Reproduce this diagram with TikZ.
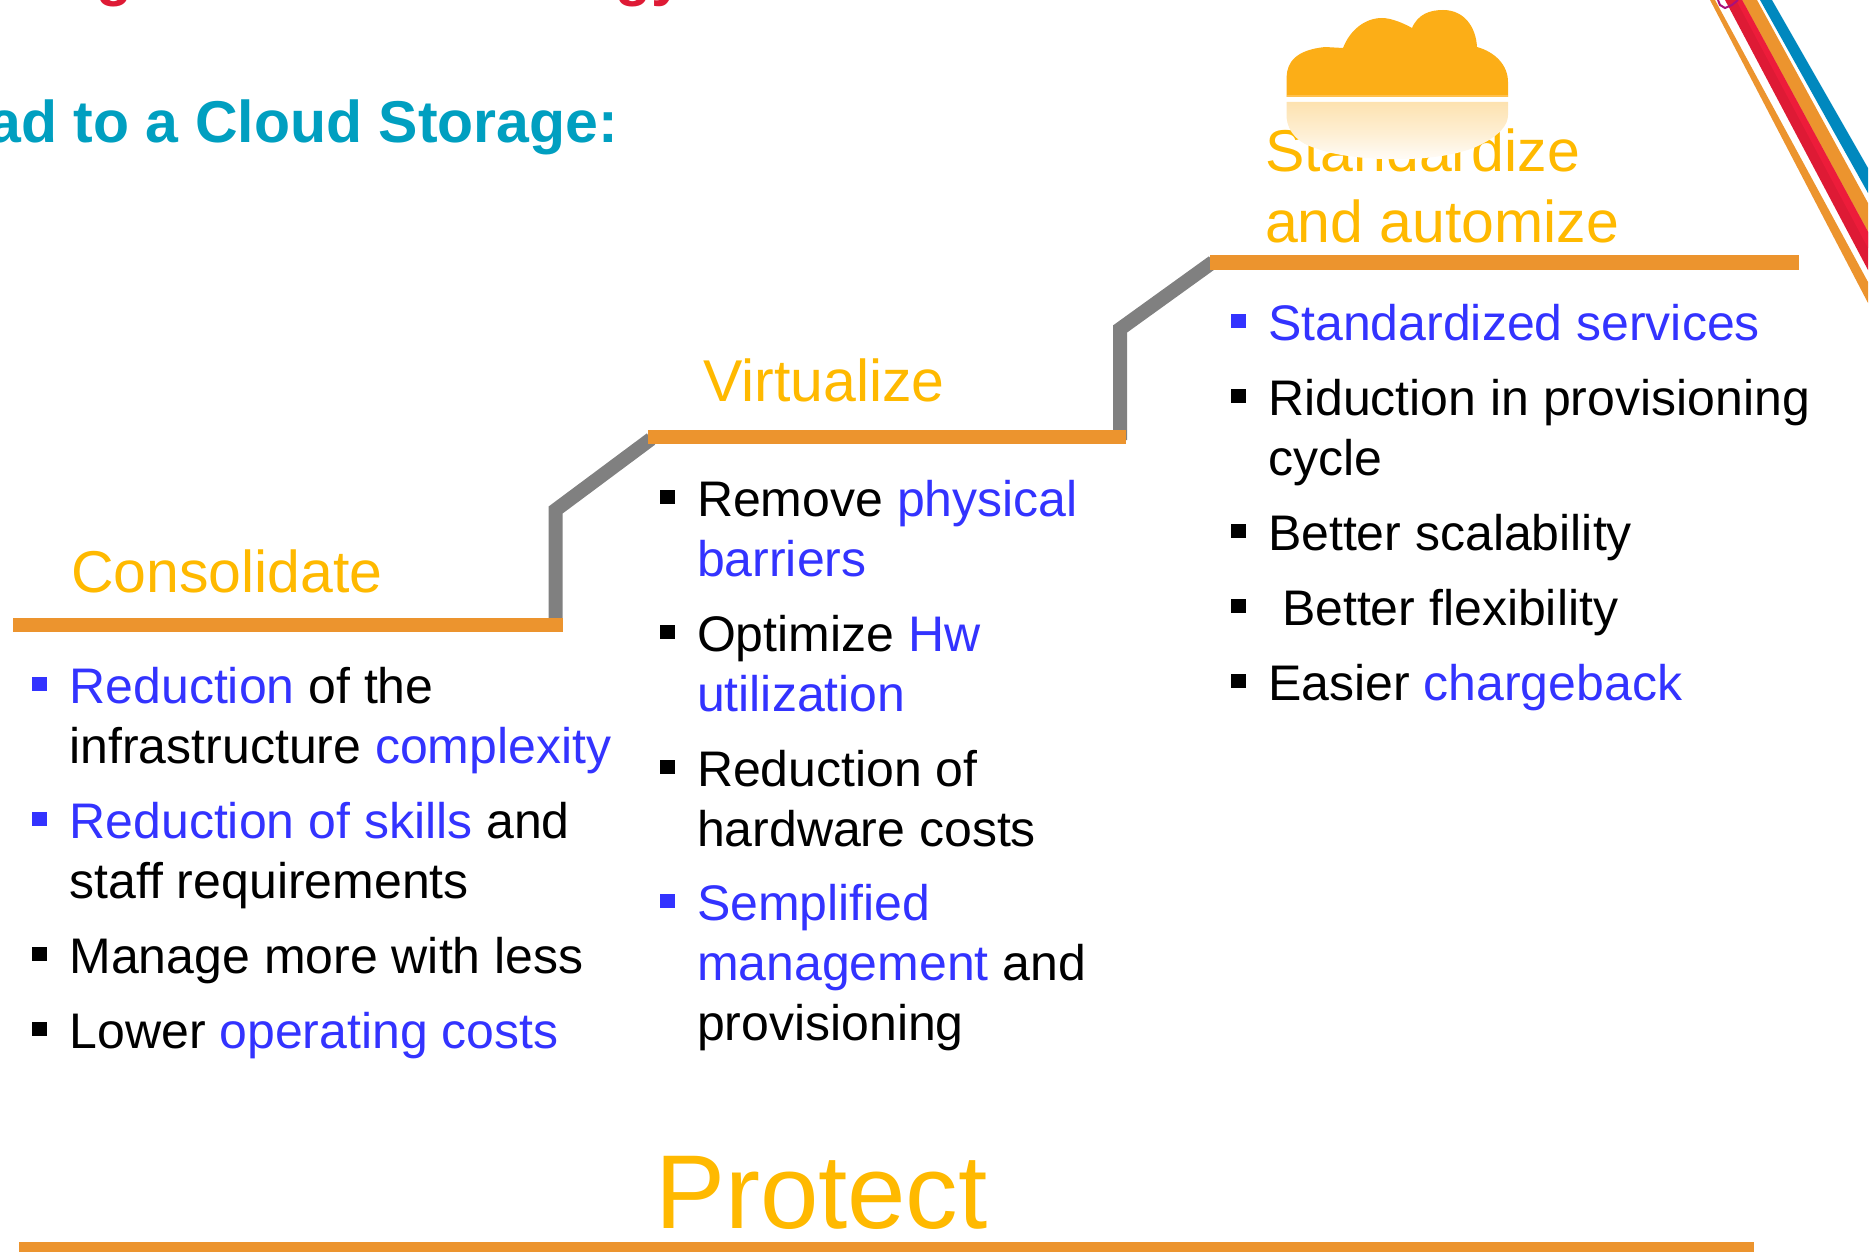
\documentclass[tikz,border=0pt]{standalone}
\usepackage{fontspec}
\setmainfont{Liberation Sans}
\definecolor{hdr}{HTML}{FFB900}
\definecolor{blu}{HTML}{3333FF}
\definecolor{bar}{HTML}{EC942E}
\definecolor{gry}{HTML}{808080}
\definecolor{teal}{HTML}{009FC0}
\definecolor{rd}{HTML}{DE1A35}
\definecolor{rdb}{HTML}{ED1C3A}
\definecolor{cld}{HTML}{FCAE17}
\definecolor{cldl}{HTML}{FFC04D}
\definecolor{cldr}{HTML}{FDE2B0}
\definecolor{stb}{HTML}{0088BE}
\definecolor{mag}{HTML}{A8107C}
\tikzset{
  txt/.style={anchor=base west,inner sep=0pt,outer sep=0pt},
  bodytxt/.style={txt,font=\fontsize{50}{60}\selectfont},
  headtxt/.style={txt,text=hdr,font=\fontsize{59}{70}\selectfont},
  titletxt/.style={inner sep=0pt,outer sep=0pt,font=\bfseries\fontsize{59}{70}\selectfont},
  barline/.style={fill=bar,draw=none},
  stepline/.style={draw=gry,line width=14pt,line join=miter}
}
\newcommand{\bl}[1]{\textcolor{blu}{#1}}
\newcommand{\bk}[3]{\fill[#3] (#1-7.5,#2-26) rectangle (#1+7.5,#2-12);}
\begin{document}
\begin{tikzpicture}[x=1pt,y=-1pt]
\useasboundingbox (0,0) rectangle (1874,1252);
\clip (0,0) rectangle (1874,1252);
% top fragments
\node[titletxt,anchor=base west,text=rd] (tg) at (96,-5) {g};
\node[titletxt,anchor=base west,text=rd] (tgy) at (615,-5) {gy};
\node[titletxt,anchor=base east,text=teal] (road) at (618,143) {ad to a Cloud Storage:};
% stripes
\fill[stb] (1760,0) -- (1772,0) -- (1868,168) -- (1868,193) -- cycle;
\fill[bar] (1742,0) -- (1757,0) -- (1868,203) -- (1868,232) -- cycle;
\fill[rd] (1725,0) -- (1742,0) -- (1868,232) -- (1868,270) -- cycle;
\fill[rdb] (1736,0) -- (1742,0) -- (1868,232) -- (1868,248) -- cycle;
\fill[bar] (1710,0) -- (1715,0) -- (1868,282) -- (1868,303) -- cycle;
\draw[mag,line width=2pt] (1718,0) -- (1720,5) -- (1725,8) -- (1732,5) -- (1738,0);
% steps
\draw[stepline] (555.6,625) -- (555.6,510) -- (651,439);
\draw[stepline] (1120,440) -- (1120,329) -- (1213,262);
\fill[barline] (13,618) rectangle (563,632);
\fill[barline] (648,429.5) rectangle (1126,444);
\fill[barline] (1210,255) rectangle (1799,269.5);
\fill[barline] (19,1242) rectangle (1754,1252);
% heads
\node[headtxt] (h1) at (71,592) {Consolidate};
\node[headtxt] (h2) at (703,401) {Virtualize};
\node[headtxt] (h3) at (1265,172) {Standardize};
\node[headtxt] (h4) at (1265,243) {and automize};
\node[txt,text=hdr,font=\fontsize{105}{120}\selectfont] (prot) at (655,1228) {Protect};
% cloud
\fill[cld] (1286.6,97) -- (1286.6,77) .. controls (1287,62) and (1296,50) .. (1325,47) -- (1343,48) .. controls (1350,30) and (1365,18) .. (1382,18) .. controls (1392,18) and (1405,24) .. (1412,28) .. controls (1418,14) and (1430,10) .. (1443,10) .. controls (1465,10) and (1476,28) .. (1477,47) .. controls (1495,52) and (1508,65) .. (1508,82) -- (1508,97) -- cycle;
\fill[cldl] (1286.6,95) rectangle (1508,97);
\shade[top color=cldr,bottom color=white,middle color=cldr!55!white] (1286.6,102) -- (1286.6,118) .. controls (1288,132) and (1298,143) .. (1315,148) .. controls (1350,162) and (1440,165) .. (1480,145) .. controls (1500,135) and (1508,125) .. (1508,115) -- (1508,102) -- cycle;
% column 1
\bk{39.5}{703}{blu}
\node[bodytxt] (a1) at (69.5,703) {\bl{Reduction} of the};
\node[bodytxt] (a2) at (69.5,763) {infrastructure \bl{complexity}};
\bk{39.5}{838}{blu}
\node[bodytxt] (a3) at (69.5,838) {\bl{Reduction of skills} and};
\node[bodytxt] (a4) at (69.5,898) {staff requirements};
\bk{39.5}{973}{black}
\node[bodytxt] (a5) at (69.5,973) {Manage more with less};
\bk{39.5}{1048}{black}
\node[bodytxt] (a6) at (69.5,1048) {Lower \bl{operating costs}};
% column 2
\bk{667}{516}{black}
\node[bodytxt] (b1) at (697,516) {Remove \bl{physical}};
\node[bodytxt] (b2) at (697,576) {\bl{barriers}};
\bk{667}{651}{black}
\node[bodytxt] (b3) at (697,651) {Optimize \bl{Hw}};
\node[bodytxt] (b4) at (697,711) {\bl{utilization}};
\bk{667}{786}{black}
\node[bodytxt] (b5) at (697,786) {Reduction of};
\node[bodytxt] (b6) at (697,846) {hardware costs};
\bk{667}{920}{blu}
\node[bodytxt] (b7) at (697,920) {\bl{Semplified}};
\node[bodytxt] (b8) at (697,980) {\bl{management} and};
\node[bodytxt] (b9) at (697,1040) {provisioning};
% column 3
\bk{1238}{340}{blu}
\node[bodytxt] (c1) at (1268,340) {\bl{Standardized services}};
\bk{1238}{415}{black}
\node[bodytxt] (c2) at (1268,415) {Riduction in provisioning};
\node[bodytxt] (c3) at (1268,475) {cycle};
\bk{1238}{550}{black}
\node[bodytxt] (c4) at (1268,550) {Better scalability};
\bk{1238}{625}{black}
\node[bodytxt] (c5) at (1282,625) {Better flexibility};
\bk{1238}{700}{black}
\node[bodytxt] (c6) at (1268,700) {Easier \bl{chargeback}};
\end{tikzpicture}
\end{document}
